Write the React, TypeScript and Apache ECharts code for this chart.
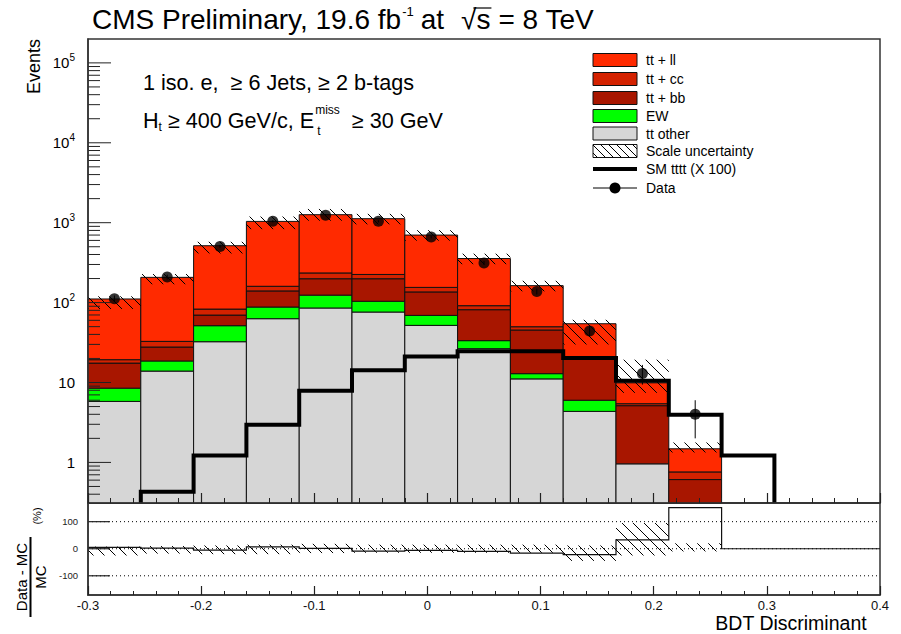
import React, { useEffect, useRef } from "react";
import * as echarts from "echarts";

const FONT = '"Liberation Sans", Arial, Helvetica, sans-serif';

// ---------------- data ----------------
const binEdges = [-0.3, -0.25333, -0.20667, -0.16, -0.11333, -0.06667, -0.02, 0.02667, 0.07333, 0.12, 0.16667, 0.21333, 0.26, 0.30667, 0.35333, 0.4];
const ttOther = [5.8, 13.9, 32.4, 62.9, 85.6, 76.2, 51.9, 26.5, 11.1, 4.35, 0.96, 0.2, 0, 0, 0];
const ewVals = [2.7, 4.7, 19.0, 25.1, 38.4, 27.8, 17.3, 6.9, 1.8, 1.65, 0, 0, 0, 0, 0];
const ttbb = [9.0, 9.2, 18.4, 52, 75, 95, 66.8, 48.1, 32.5, 14, 4.17, 0.41, 0, 0, 0];
const ttcc = [1.8, 4.9, 13.2, 20, 36, 26, 19, 10, 4.5, 1, 0.3, 0.15, 0, 0, 0];
const ttll = [91.7, 174.3, 432, 878, 1024, 897, 545, 264.5, 113.1, 33.4, 4.47, 0.72, 0, 0, 0];
const smTttt = [0, 0.43, 1.22, 2.96, 7.9, 14.2, 21.2, 24.6, 24.6, 20.3, 10.5, 3.95, 1.22, 0, 0];
const dataCounts = [112, 209, 505, 1040, 1240, 1040, 662, 313, 138, 44, 13, 4, 0, 0, 0];
const dataErrors = [10.6, 14.5, 22.5, 32.2, 35.2, 32.2, 25.7, 17.7, 11.7, 6.6, 3.6, 2.0, 0, 0, 0];
const ratioPct = [5, 2, -5, 7, 1, -9, -6, -10, -16, -22, 33, 152, 0, 0, 0];
const uncUp = [0.08, 0.1, 0.12, 0.15, 0.18, 0.15, 0.15, 0.15, 0.15, 0.12, 0.95, 0.2, 0, 0, 0];
const uncDown = [0.25, 0.18, 0.2, 0.2, 0.16, 0.15, 0.15, 0.15, 0.15, 0.45, 0.25, 0.1, 0, 0, 0];

const yMajorTicks = [1, 10, 100, 1000, 10000, 100000];
const yMajorLabels = [["1", ""], ["10", ""], ["10", "2"], ["10", "3"], ["10", "4"], ["10", "5"]];
const yMinorMultipliers = [2, 3, 4, 5, 6, 7, 8, 9];
const ratioTicks = [100, 0, -100];
const ratioLabels = ["100", "0", "-100"];

const legendLabels = ["tt + ll", "tt + cc", "tt + bb", "EW", "tt other", "Scale uncertainty", "SM tttt (X 100)", "Data"];

// ---------------- styling / ranges ----------------
const X_MIN = -0.3;
const X_MAX = 0.4;
const Y_MIN = 0.3105;
const Y_MAX = 199000;
const R_MIN = -171;
const R_MAX = 169;

const C_LL = "#ff2a00";
const C_CC = "#d42200";
const C_BB = "#a81600";
const C_EW = "#00ff00";
const C_OTHER = "#d6d6d6";
const stackColors = [C_OTHER, C_EW, C_BB, C_CC, C_LL];
const components = [ttOther, ewVals, ttbb, ttcc, ttll];

function hatch(x0: number, y0: number, x1: number, y1: number, step: number): number[][] {
  const segs: number[][] = [];
  if (x1 <= x0 || y1 <= y0) return segs;
  const cStart = Math.floor((y0 - x1) / step) * step;
  for (let c = cStart; c <= y1 - x0; c += step) {
    const xa = Math.max(x0, y0 - c);
    const xb = Math.min(x1, y1 - c);
    if (xb - xa > 0.5) segs.push([xa, xa + c, xb, xb + c]);
  }
  return segs;
}

let measureCtx: any = null;
function tw(text: string, size: number): number {
  if (!measureCtx) measureCtx = document.createElement("canvas").getContext("2d");
  measureCtx.font = `${size}px ${FONT}`;
  return measureCtx.measureText(text).width;
}

function buildOption(): any {
  const nb = binEdges.length - 1;
  const centers = binEdges.slice(0, nb).map((e, i) => (e + binEdges[i + 1]) / 2);
  const totals = centers.map((_, i) => components.reduce((s, a) => s + a[i], 0));
  const active = centers.map((_, i) => i).filter((i) => totals[i] > 0);

  const yTickItems: number[][] = [];
  yMajorTicks.forEach((v, k) => yTickItems.push([X_MIN, v, 1, k]));
  [0.1].concat(yMajorTicks).forEach((dec) =>
    yMinorMultipliers.forEach((m) => {
      const v = dec * m;
      if (v > Y_MIN && v < Y_MAX) yTickItems.push([X_MIN, v, 0, -1]);
    })
  );

  const series: any[] = [
    {
      type: "custom",
      xAxisIndex: 0,
      yAxisIndex: 0,
      z: 2,
      data: active.map((i) => [centers[i], totals[i], i]),
      renderItem: (_p: any, api: any) => {
        const i = api.value(2);
        let cum = 0;
        const children: any[] = [];
        components.forEach((arr, k) => {
          const v = arr[i];
          if (!(v > 0)) return;
          const lo = Math.max(cum, Y_MIN);
          cum += v;
          const hi = Math.min(cum, Y_MAX);
          if (hi <= Y_MIN) return;
          const a = api.coord([binEdges[i], hi]);
          const b = api.coord([binEdges[i + 1], lo]);
          children.push({
            type: "rect",
            shape: { x: a[0], y: a[1], width: b[0] - a[0], height: b[1] - a[1] },
            style: { fill: stackColors[k], stroke: "#111", lineWidth: 1 },
          });
        });
        return { type: "group", children };
      },
    },
    {
      type: "custom",
      xAxisIndex: 0,
      yAxisIndex: 0,
      z: 3,
      data: active.map((i) => [centers[i], totals[i], i]),
      renderItem: (_p: any, api: any) => {
        const i = api.value(2);
        const t = totals[i];
        const hi = Math.min(t * (1 + uncUp[i]), Y_MAX);
        const lo = Math.max(t * (1 - uncDown[i]), Y_MIN);
        const a = api.coord([binEdges[i], hi]);
        const b = api.coord([binEdges[i + 1], lo]);
        const segs = hatch(a[0], a[1], b[0], b[1], 11);
        return {
          type: "group",
          children: segs.map((s) => ({
            type: "line",
            shape: { x1: s[0], y1: s[1], x2: s[2], y2: s[3] },
            style: { stroke: "#000", lineWidth: 1 },
          })),
        };
      },
    },
    {
      type: "custom",
      xAxisIndex: 0,
      yAxisIndex: 0,
      z: 4,
      data: [[centers[0], 1, 0]],
      renderItem: (_p: any, api: any) => {
        const first = smTttt.findIndex((v) => v > 0);
        let last = first;
        smTttt.forEach((v, i) => {
          if (v > 0) last = i;
        });
        const pts: number[][] = [api.coord([binEdges[first], Y_MIN])];
        for (let i = first; i <= last; i++) {
          const v = Math.max(smTttt[i], Y_MIN);
          pts.push(api.coord([binEdges[i], v]));
          pts.push(api.coord([binEdges[i + 1], v]));
        }
        pts.push(api.coord([binEdges[last + 1], Y_MIN]));
        return {
          type: "polyline",
          shape: { points: pts },
          style: { stroke: "#000", lineWidth: 4, fill: "none", lineJoin: "miter" },
        };
      },
    },
    {
      type: "custom",
      xAxisIndex: 0,
      yAxisIndex: 0,
      z: 5,
      data: dataCounts.map((c, i) => [centers[i], c, i]).filter((d) => d[1] > 0),
      renderItem: (_p: any, api: any) => {
        const i = api.value(2);
        const c = dataCounts[i];
        const a = api.coord([centers[i], Math.min(c + dataErrors[i], Y_MAX)]);
        const b = api.coord([centers[i], Math.max(c - dataErrors[i], Y_MIN)]);
        return {
          type: "line",
          shape: { x1: a[0], y1: a[1], x2: b[0], y2: b[1] },
          style: { stroke: "#000", lineWidth: 1 },
        };
      },
    },
    {
      type: "scatter",
      xAxisIndex: 0,
      yAxisIndex: 0,
      z: 6,
      symbol: "circle",
      symbolSize: 11,
      itemStyle: { color: "#000" },
      data: dataCounts.map((c, i) => [centers[i], c]).filter((d) => d[1] > 0),
    },
    {
      type: "custom",
      xAxisIndex: 0,
      yAxisIndex: 0,
      z: 8,
      data: yTickItems,
      renderItem: (_p: any, api: any) => {
        const v = api.value(1);
        const major = api.value(2) === 1;
        const k = api.value(3);
        const p = api.coord([X_MIN, v]);
        const children: any[] = [
          {
            type: "line",
            shape: { x1: p[0], y1: p[1], x2: p[0] + (major ? 23 : 12), y2: p[1] },
            style: { stroke: "#222", lineWidth: 1 },
          },
        ];
        if (major) {
          const lab = yMajorLabels[k];
          const text = lab[1] ? `{b|${lab[0]}}{s|${lab[1]}}` : `{b|${lab[0]}}`;
          children.push({
            type: "text",
            x: p[0] - 13,
            y: p[1],
            style: {
              text,
              align: "right",
              verticalAlign: "middle",
              fill: "#000",
              rich: {
                b: { fontSize: 15, fontFamily: FONT, lineHeight: 20, fill: "#000" },
                s: { fontSize: 10, fontFamily: FONT, lineHeight: 10, verticalAlign: "top", fill: "#000" },
              },
            },
          });
        }
        return { type: "group", children };
      },
    },
    // ratio panel
    {
      type: "custom",
      xAxisIndex: 1,
      yAxisIndex: 1,
      z: 2,
      data: ratioTicks.map((v) => [X_MIN, v]),
      renderItem: (_p: any, api: any) => {
        const v = api.value(1);
        const a = api.coord([X_MIN, v]);
        const b = api.coord([X_MAX, v]);
        return {
          type: "line",
          shape: { x1: a[0], y1: a[1], x2: b[0], y2: b[1] },
          style: { stroke: "#000", lineWidth: 1, lineDash: [1, 3] },
        };
      },
    },
    {
      type: "custom",
      xAxisIndex: 1,
      yAxisIndex: 1,
      z: 3,
      data: active.map((i) => [centers[i], 0, i]),
      renderItem: (_p: any, api: any) => {
        const i = api.value(2);
        const hi = Math.min(uncUp[i] * 100, R_MAX);
        const lo = Math.max(-uncDown[i] * 100, R_MIN);
        const a = api.coord([binEdges[i], hi]);
        const b = api.coord([binEdges[i + 1], lo]);
        const segs = hatch(a[0], a[1], b[0], b[1], 11);
        return {
          type: "group",
          children: segs.map((s) => ({
            type: "line",
            shape: { x1: s[0], y1: s[1], x2: s[2], y2: s[3] },
            style: { stroke: "#000", lineWidth: 1 },
          })),
        };
      },
    },
    {
      type: "custom",
      xAxisIndex: 1,
      yAxisIndex: 1,
      z: 4,
      data: [[centers[0], 0]],
      renderItem: (_p: any, api: any) => {
        const pts: number[][] = [];
        for (let i = 0; i < nb; i++) {
          const v = Math.max(Math.min(ratioPct[i], R_MAX), R_MIN);
          pts.push(api.coord([binEdges[i], v]));
          pts.push(api.coord([binEdges[i + 1], v]));
        }
        return {
          type: "polyline",
          shape: { points: pts },
          style: { stroke: "#111", lineWidth: 1.2, fill: "none" },
        };
      },
    },
    {
      type: "custom",
      xAxisIndex: 1,
      yAxisIndex: 1,
      z: 8,
      data: ratioTicks.map((v, k) => [X_MIN, v, k]),
      renderItem: (_p: any, api: any) => {
        const v = api.value(1);
        const k = api.value(2);
        const p = api.coord([X_MIN, v]);
        return {
          type: "group",
          children: [
            {
              type: "line",
              shape: { x1: p[0], y1: p[1], x2: p[0] + 22, y2: p[1] },
              style: { stroke: "#222", lineWidth: 1.2 },
            },
            {
              type: "text",
              x: p[0] - 10,
              y: p[1],
              style: { text: ratioLabels[k], align: "right", verticalAlign: "middle", fontSize: 9.5, fontFamily: FONT, fill: "#222" },
            },
          ],
        };
      },
    },
  ];

  // ---------------- graphic texts / legend ----------------
  const g: any[] = [];
  const addText = (text: string, x: number, y: number, size: number, align = "left", rotation = 0) => {
    g.push({
      type: "text",
      x,
      y,
      z: 100,
      rotation,
      style: { text, fontSize: size, fontFamily: FONT, fill: "#000", align, verticalAlign: "middle" },
    });
  };
  const addLine = (x1: number, y1: number, x2: number, y2: number, w = 1) => {
    g.push({ type: "line", z: 100, shape: { x1, y1, x2, y2 }, style: { stroke: "#000", lineWidth: w } });
  };

  // title
  const TF = 28;
  const TY = 19.5;
  let cx = 92;
  const t1 = "CMS Preliminary, 19.6 fb";
  addText(t1, cx, TY, TF);
  cx += tw(t1, TF) + 1;
  addText("-1", cx, 11, 13);
  cx += tw("-1", 13) + 7;
  addText("at", cx, TY, TF);
  cx += tw("at", TF) + 17;
  const sq = "√s";
  addText(sq, cx, TY, TF);
  const sqrtW = tw("√", TF);
  const sEnd = cx + tw(sq, TF);
  addLine(cx + sqrtW * 0.8, 8, sEnd + 1, 8, 1.2);
  cx = sEnd + 8;
  addText("= 8 TeV", cx, TY, TF);

  // inner annotation
  const IF = 21.6;
  addText("1 iso. e,  ≥ 6 Jets, ≥ 2 b-tags", 143, 82, IF);
  let lx = 143;
  addText("H", lx, 120, IF);
  lx += tw("H", IF);
  addText("t", lx, 127, 12);
  lx += tw("t", 12);
  const mid = " ≥ 400 GeV/c, E";
  addText(mid, lx, 120, IF);
  lx += tw(mid, IF) + 1;
  addText("miss", lx, 110, 12);
  addText("t", lx + 2, 131, 12);
  lx += tw("miss", 12);
  addText("  ≥ 30 GeV", lx, 120, IF);

  // axis titles
  addText("Events", 34, 39, 18, "right", Math.PI / 2);
  const bdt = "BDT Discriminant";
  addText(bdt, 867 - tw(bdt, 19.5), 623, 19.5);
  addText("Data - MC", 21.5, 577, 15, "center", Math.PI / 2);
  addLine(30.5, 537, 30.5, 617, 2);
  addText("MC", 40, 577, 15, "center", Math.PI / 2);
  addText("(%)", 36.5, 516, 11, "center", Math.PI / 2);

  // legend
  const rowsY = [60, 79, 98, 116, 133.5, 151, 169, 188];
  const bx0 = 593;
  const bx1 = 637;
  const fills = [C_LL, C_CC, C_BB, C_EW, C_OTHER];
  rowsY.forEach((y, k) => {
    if (k < 5) {
      g.push({
        type: "rect",
        z: 100,
        shape: { x: bx0, y: y - 6.5, width: bx1 - bx0, height: 13 },
        style: { fill: fills[k], stroke: "#111", lineWidth: 1 },
      });
    } else if (k === 5) {
      g.push({
        type: "rect",
        z: 100,
        shape: { x: bx0, y: y - 6.5, width: bx1 - bx0, height: 13 },
        style: { fill: "#fff", stroke: "#111", lineWidth: 1 },
      });
      hatch(bx0, y - 6.5, bx1, y + 6.5, 8).forEach((s) => addLine(s[0], s[1], s[2], s[3], 1));
    } else if (k === 6) {
      addLine(bx0, y, bx1, y, 4);
    } else {
      addLine(bx0, y, bx1, y, 1);
      g.push({ type: "circle", z: 101, shape: { cx: (bx0 + bx1) / 2, cy: y, r: 5.5 }, style: { fill: "#000" } });
    }
    addText(legendLabels[k], 646, y, 14);
  });

  const axisLineStyle = { color: "#333", width: 1.5 };
  return {
    animation: false,
    backgroundColor: "#fff",
    textStyle: { fontFamily: FONT },
    grid: [
      { left: 88, top: 39, width: 792, height: 464, show: true, borderColor: "#333", borderWidth: 1.5, backgroundColor: "transparent" },
      { left: 88, top: 503, width: 792, height: 92, show: true, borderColor: "#333", borderWidth: 1.5, backgroundColor: "transparent" },
    ],
    xAxis: [
      {
        type: "value",
        gridIndex: 0,
        min: X_MIN,
        max: X_MAX,
        interval: 0.1,
        z: 10,
        axisLine: { show: true, onZero: false, lineStyle: axisLineStyle },
        axisTick: { show: true, inside: true, length: 10, lineStyle: { color: "#222", width: 1.2 } },
        minorTick: { show: true, splitNumber: 5, length: 5, lineStyle: { color: "#222", width: 1 } },
        axisLabel: { show: false },
        splitLine: { show: false },
        minorSplitLine: { show: false },
      },
      {
        type: "value",
        gridIndex: 1,
        min: X_MIN,
        max: X_MAX,
        interval: 0.1,
        z: 10,
        axisLine: { show: true, onZero: false, lineStyle: axisLineStyle },
        axisTick: { show: true, inside: true, length: 9, lineStyle: { color: "#222", width: 1.2 } },
        minorTick: { show: true, splitNumber: 5, length: 4, lineStyle: { color: "#222", width: 1 } },
        axisLabel: { show: true, fontSize: 13, fontFamily: FONT, color: "#111", margin: 4 },
        splitLine: { show: false },
        minorSplitLine: { show: false },
      },
    ],
    yAxis: [
      {
        type: "log",
        logBase: 10,
        gridIndex: 0,
        min: Y_MIN,
        max: Y_MAX,
        z: 10,
        axisLine: { show: true, onZero: false, lineStyle: axisLineStyle },
        axisTick: { show: false },
        axisLabel: { show: false },
        splitLine: { show: false },
      },
      {
        type: "value",
        gridIndex: 1,
        min: R_MIN,
        max: R_MAX,
        z: 10,
        axisLine: { show: true, onZero: false, lineStyle: axisLineStyle },
        axisTick: { show: false },
        axisLabel: { show: false },
        splitLine: { show: false },
      },
    ],
    series,
    graphic: g,
  };
}

export default function App() {
  const ref = useRef<HTMLDivElement>(null);
  useEffect(() => {
    document.body.style.margin = "0";
    if (!ref.current) return;
    const chart = echarts.init(ref.current, null, { renderer: "svg" });
    chart.setOption(buildOption());
    return () => chart.dispose();
  }, []);
  return <div ref={ref} style={{ position: "absolute", left: 0, top: 0, width: 901, height: 634 }} />;
}
